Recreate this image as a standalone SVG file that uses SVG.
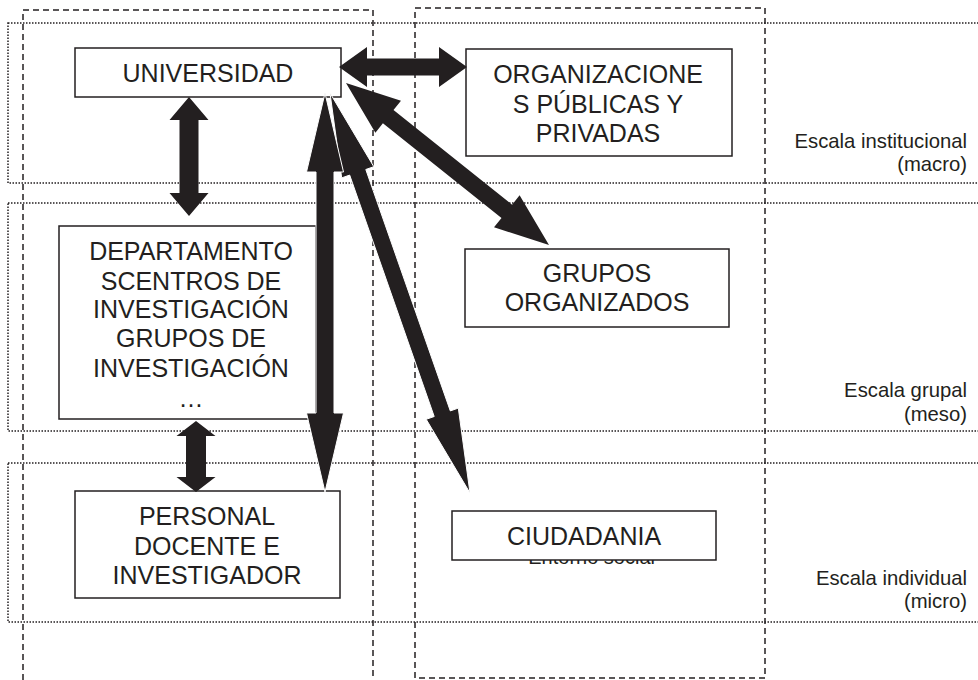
<svg xmlns="http://www.w3.org/2000/svg" width="978" height="680" viewBox="0 0 978 680">
<style>
.bg{fill:#fff}
.dash{fill:none;stroke:#231f20;stroke-width:1.5;stroke-dasharray:6 4}
.dot{fill:none;stroke:#231f20;stroke-width:1.5;stroke-dasharray:1.5 1.5}
.box{fill:#fff;stroke:#231f20;stroke-width:1.5}
.t{font-family:"Liberation Sans",Arial,Helvetica,sans-serif;font-size:25px;fill:#231f20;text-anchor:middle}
.lbl{font-family:"Liberation Sans",Arial,Helvetica,sans-serif;font-size:20.3px;fill:#231f20;text-anchor:end}
.arr{fill:#231f20}
.arrw{fill:#231f20;stroke:#fff;stroke-width:1}
</style>
<rect class="bg" x="0" y="0" width="978" height="680"/>
<g id="frames">
<path class="dash" d="M23,680 V10 H373 V680"/>
<rect class="dash" x="415" y="8" width="350" height="670"/>
<rect class="dot" x="8" y="23" width="1000" height="160"/>
<rect class="dot" x="8" y="203" width="1000" height="228"/>
<rect class="dot" x="8" y="463" width="1000" height="159"/>
</g>
<g id="scale-labels">
<text class="lbl" x="967" y="148">Escala institucional</text>
<text class="lbl" x="967" y="171">(macro)</text>
<text class="lbl" x="967" y="397">Escala grupal</text>
<text class="lbl" x="967" y="421">(meso)</text>
<text class="lbl" x="967" y="585">Escala individual</text>
<text class="lbl" x="967" y="608">(micro)</text>
</g>
<g id="entorno">
<text class="lbl" x="655" y="564" style="font-size:20px">Entorno social</text>
</g>
<g id="universidad">
<rect class="box" x="75" y="48" width="266" height="49"/>
<text class="t" x="208" y="82">UNIVERSIDAD</text>
</g>
<g id="organizaciones">
<rect class="box" x="466" y="49" width="266" height="107"/>
<text class="t" x="598" y="83">ORGANIZACIONE</text>
<text class="t" x="598" y="113">S PÚBLICAS Y</text>
<text class="t" x="598" y="142">PRIVADAS</text>
</g>
<g id="departamentos">
<rect class="box" x="59" y="226" width="257" height="193"/>
<text class="t" x="191" y="260">DEPARTAMENTO</text>
<text class="t" x="191" y="290">SCENTROS DE</text>
<text class="t" x="191" y="318">INVESTIGACIÓN</text>
<text class="t" x="191" y="347">GRUPOS DE</text>
<text class="t" x="191" y="377">INVESTIGACIÓN</text>
<text class="t" x="191" y="407">…</text>
</g>
<g id="grupos">
<rect class="box" x="465" y="249" width="264" height="78"/>
<text class="t" x="597" y="282">GRUPOS</text>
<text class="t" x="597" y="311">ORGANIZADOS</text>
</g>
<g id="personal">
<rect class="box" x="75" y="491" width="265" height="107"/>
<text class="t" x="207" y="525">PERSONAL</text>
<text class="t" x="207" y="555">DOCENTE E</text>
<text class="t" x="207" y="584">INVESTIGADOR</text>
</g>
<g id="ciudadania">
<rect class="box" x="452" y="511" width="264" height="49"/>
<text class="t" x="584" y="545">CIUDADANIA</text>
</g>
<g id="connectors">
<polygon class="arr" points="189,97 208.5,120 198.5,120 198.5,193 208.5,193 189,216 169.5,193 179.5,193 179.5,120 169.5,120"/>
<polygon class="arr" points="196,421 215.5,436 206,436 206,477 215.5,477 196,492 176.5,477 186,477 186,436 176.5,436"/>
<polygon class="arr" points="339,67 367,47 367,58.5 439,58.5 439,47 467,67 439,87 439,75.5 367,75.5 367,87"/>
<polygon class="arr" points="346,83 375.4,132.7 382.9,123.3 501.5,218 494,227.3 549,245 519.6,195.3 512.1,204.7 393.5,110.1 401,100.7"/>
<polygon class="arrw" points="330,93 341.7,177.9 349.7,175.1 434.2,416.5 426.2,419.3 470,493 458.3,408.1 450.3,410.9 365.8,169.5 373.8,166.7"/>
<polygon class="arrw" points="325,93 343.5,172 334,172 334,413 343.5,413 325,492 306.5,413 316,413 316,172 306.5,172"/>
</g>
</svg>
